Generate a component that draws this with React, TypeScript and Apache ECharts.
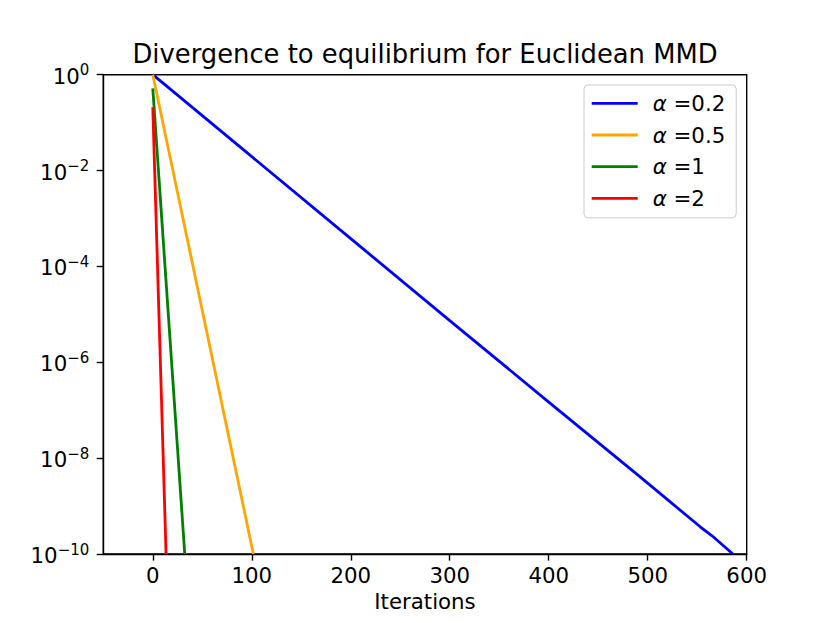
import React, { useEffect, useRef } from "react";
import * as echarts from "echarts";

const FONT = "DejaVu Sans";

const seriesNames = ["α =0.2", "α =0.5", "α =1", "α =2"];
const seriesColors = ["#0000ff", "#ffa500", "#008000", "#ff0000"];

// [iteration, divergence]
const blueData: [number, number][] = [
  [0, 1],
  [100, 1.95e-2],
  [200, 3.8e-4],
  [300, 7.4e-6],
  [400, 1.48e-7],
  [492, 4.1e-9],
  [553, 3.7e-10],
  [565, 2.4e-10],
  [586, 1e-10],
];
const orangeData: [number, number][] = [
  [0, 1],
  [101.6, 1e-10],
];
const greenData: [number, number][] = [
  [0, 0.52],
  [32.3, 1e-10],
];
const redData: [number, number][] = [
  [0, 0.21],
  [13.4, 1e-10],
];

const xTicks = [0, 100, 200, 300, 400, 500, 600];
const yTicks = [1, 1e-2, 1e-4, 1e-6, 1e-8, 1e-10];
const yExponents = ["0", "−2", "−4", "−6", "−8", "−10"];

const titleText = "Divergence to equilibrium for Euclidean MMD";
const xName = "Iterations";

const TICK_FS = 21.3;
const TITLE_FS = 25.8;

export default function App() {
  const ref = useRef<HTMLDivElement>(null);
  useEffect(() => {
    if (!ref.current) return;
    const chart = echarts.init(ref.current, null, { renderer: "svg" });
    const allData = [blueData, orangeData, greenData, redData];
    chart.setOption({
      animation: false,
      backgroundColor: "#ffffff",
      textStyle: { fontFamily: FONT },
      grid: {
        left: 103.3,
        top: 74.7,
        right: 83.3,
        bottom: 69,
        show: true,
        borderColor: "#000",
        borderWidth: 1.4,
        backgroundColor: "transparent",
      },
      graphic: [
        {
          type: "text",
          x: 425,
          y: 54,
          style: {
            text: titleText,
            fontFamily: FONT,
            fontSize: TITLE_FS,
            fill: "#000",
            align: "center",
            verticalAlign: "middle",
          },
        },
      ],
      legend: {
        orient: "vertical",
        left: 584,
        top: 85,
        padding: [6.3, 11, 7.4, 7.7],
        itemGap: 7.7,
        itemWidth: 46,
        itemHeight: 2.8,
        icon: "rect",
        backgroundColor: "rgba(255,255,255,0.8)",
        borderColor: "#cccccc",
        borderWidth: 1,
        borderRadius: 4,
        data: seriesNames,
        formatter: (name: string) => `{i|α}{t|${name.slice(1)}}`,
        textStyle: {
          fontFamily: FONT,
          fontSize: TICK_FS,
          lineHeight: 24,
          color: "#000",
          padding: [0, 0, 0, 10],
          rich: {
            i: { fontFamily: FONT, fontStyle: "italic", fontSize: TICK_FS, lineHeight: 24, color: "#000" },
            t: { fontFamily: FONT, fontSize: TICK_FS, lineHeight: 24, color: "#000" },
          },
        },
      },
      xAxis: {
        type: "value",
        min: -50,
        max: 600,
        name: xName,
        nameLocation: "middle",
        nameGap: 36,
        nameTextStyle: { fontFamily: FONT, fontSize: TICK_FS, color: "#000" },
        axisLine: { show: true, onZero: false, lineStyle: { color: "#000", width: 1.4 } },
        axisTick: {
          show: true,
          inside: false,
          length: 6.6,
          lineStyle: { color: "#000", width: 1.4 },
          customValues: xTicks,
        },
        axisLabel: {
          fontFamily: FONT,
          fontSize: TICK_FS,
          color: "#000",
          margin: 11,
          customValues: xTicks,
        },
        splitLine: { show: false },
      },
      yAxis: {
        type: "log",
        logBase: 10,
        min: 1e-10,
        max: 1,
        axisLine: { show: true, onZero: false, lineStyle: { color: "#000", width: 1.4 } },
        axisTick: {
          show: true,
          inside: false,
          length: 6.6,
          lineStyle: { color: "#000", width: 1.4 },
          customValues: yTicks,
        },
        axisLabel: {
          fontFamily: FONT,
          color: "#000",
          margin: 14,
          customValues: yTicks,
          formatter: (v: number) => {
            const idx = yTicks.findIndex((t) => Math.abs(Math.log10(t) - Math.log10(v)) < 1e-6);
            const e = idx >= 0 ? yExponents[idx] : "";
            return `{b|10}{s|${e}}`;
          },
          rich: {
            b: { fontFamily: FONT, fontSize: TICK_FS, lineHeight: 24, color: "#000", verticalAlign: "bottom" },
            s: { fontFamily: FONT, fontSize: 15, lineHeight: 24, color: "#000", verticalAlign: "top", padding: [0, 0, 7, 0] },
          },
        },
        splitLine: { show: false },
        minorTick: { show: false },
      },
      series: allData.map((d, i) => ({
        type: "line",
        name: seriesNames[i],
        data: d,
        symbol: "none",
        clip: true,
        lineStyle: { color: seriesColors[i], width: 2.8 },
        itemStyle: { color: seriesColors[i] },
      })),
    });
    return () => chart.dispose();
  }, []);
  return (
    <div
      ref={ref}
      style={{ position: "fixed", left: 0, top: 0, width: 830, height: 623, background: "#fff" }}
    />
  );
}
